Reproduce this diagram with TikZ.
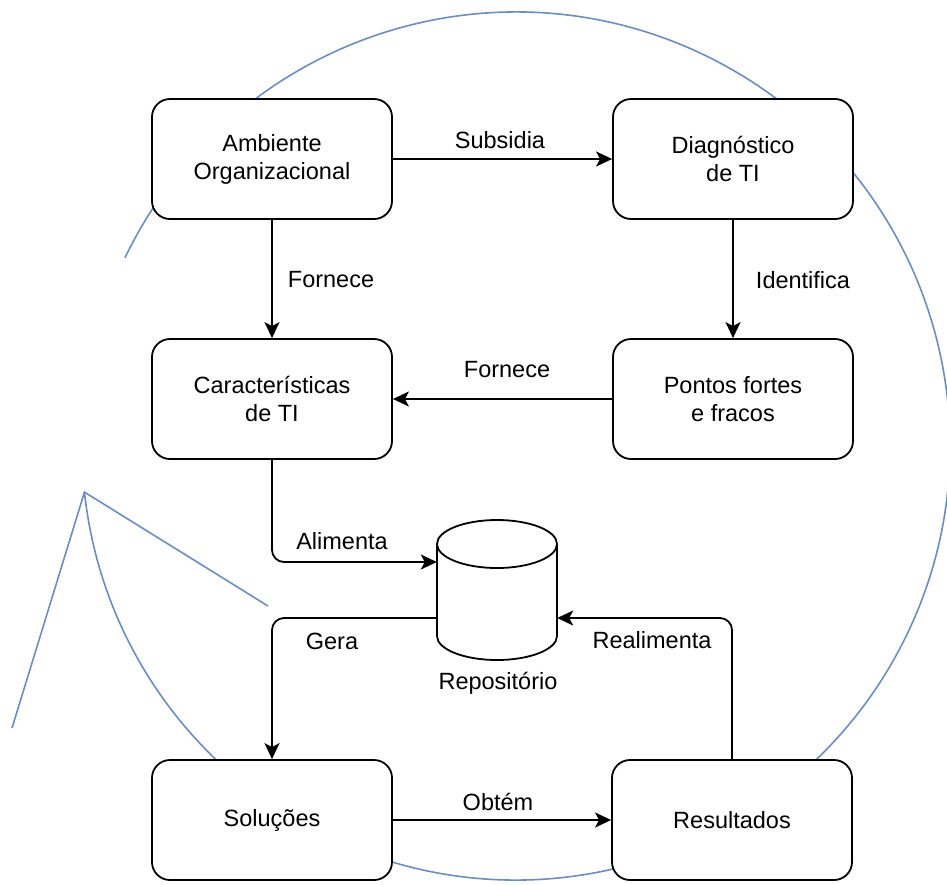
\documentclass[tikz,border=0pt]{standalone}
\usepackage{fontspec}
\setmainfont{Liberation Sans}
\usetikzlibrary{arrows.meta,calc}
\definecolor{arcblue}{HTML}{6C8EBF}
\begin{document}
\begin{tikzpicture}[x=1pt,y=-1pt,
  every node/.style={font=\fontsize{23.5pt}{28pt}\selectfont},
  box/.style={draw=black,line width=1.8pt,fill=white,rounded corners=18pt,
    minimum width=240pt,minimum height=120pt,align=center,inner sep=0pt},
  lbl/.style={inner sep=0pt,anchor=center},
  arr/.style={line width=1.8pt,-{Stealth[length=16pt,width=15pt,inset=4pt]}},
  cycle line/.style={draw=arcblue,line width=1.6pt}]
\useasboundingbox (0,0) rectangle (947,884);
% big cycle arc
\coordinate (C) at (516,446);
\coordinate (arcstart) at ([shift={(154.3:434pt)}]C);
\coordinate (tip) at ([shift={(186.1:434pt)}]C);
\coordinate (barbA) at (268,606);
\coordinate (barbB) at (12,728);
\draw[cycle line] (arcstart) arc[start angle=154.3,end angle=-173.9,radius=434pt];
\draw[cycle line] (barbA) -- (tip) -- (barbB);
% boxes
\node[box] (amb) at (272,159) {Ambiente\\Organizacional};
\node[box] (diag) at (733,159) {Diagnóstico\\de TI};
\node[box] (car) at (272,399) {Características\\de TI};
\node[box] (pon) at (733,399) {Pontos fortes\\e fracos};
\node[box] (sol) at (272,820) {Soluções};
\node[box] (res) at (732,820) {Resultados};
% repository cylinder
\node[minimum width=120pt,minimum height=140pt,inner sep=0pt] (repo) at (497,590) {};
\draw[line width=1.8pt,fill=white] (437,544) -- (437,636)
  arc[start angle=180,end angle=360,x radius=60pt,y radius=24pt]
  -- (557,544)
  arc[start angle=0,end angle=180,x radius=60pt,y radius=24pt] -- cycle;
\draw[line width=1.8pt] (437,544) arc[start angle=180,end angle=360,x radius=60pt,y radius=24pt];
\node[lbl] (repolbl) at (498,683) {Repositório};
% connectors
\draw[arr] (amb.east) -- (diag.west);
\draw[arr] (amb.south) -- (car.north);
\draw[arr] (diag.south) -- (pon.north);
\draw[arr] (pon.west) -- (car.east);
\draw[arr,rounded corners=12pt] (car.south) |- ([yshift=28pt]repo.west);
\draw[arr,rounded corners=12pt] ([yshift=-28pt]repo.west) -| (sol.north);
\draw[arr,rounded corners=12pt] (res.north) |- ([yshift=-28pt]repo.east);
\draw[arr] (sol.east) -- (res.west);
% labels
\node[lbl] (l1) at (500,140) {Subsidia};
\node[lbl] (l2) at (331,280) {Fornece};
\node[lbl] (l3) at (803,280) {Identifica};
\node[lbl] (l4) at (507,370) {Fornece};
\node[lbl] (l5) at (342,541) {Alimenta};
\node[lbl] (l6) at (332,641) {Gera};
\node[lbl] (l7) at (652,640) {Realimenta};
\node[lbl] (l8) at (498,802) {Obtém};
\end{tikzpicture}
\end{document}
